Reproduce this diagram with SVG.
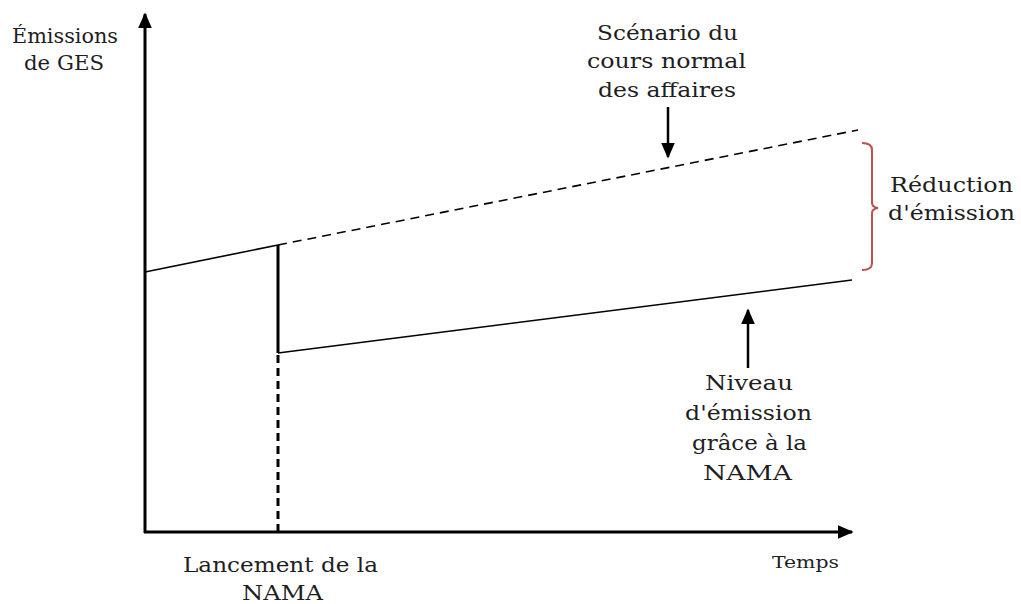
<svg xmlns="http://www.w3.org/2000/svg" width="1021" height="604" viewBox="0 0 1021 604">
<style>
text{font-family:"DejaVu Serif",serif;font-size:21px;fill:#1e1e1e;text-anchor:middle}
.small{font-size:16px}
.axis{stroke:#000;stroke-width:3;fill:none}
.thin{stroke:#000;stroke-width:1.6;fill:none}
.dash{stroke-dasharray:9 6}
.vdash{stroke:#000;stroke-width:3;fill:none;stroke-dasharray:8 5}
.ptr{stroke:#000;stroke-width:2.5;fill:none}
.brace{stroke:#c0504d;stroke-width:2;fill:none}
</style>
<defs>
<marker id="ahBig" viewBox="0 0 10 10" refX="9" refY="5" markerWidth="16" markerHeight="14" markerUnits="userSpaceOnUse" orient="auto" preserveAspectRatio="none">
<path d="M0,0 L10,5 L0,10 z" fill="#000"/>
</marker>
</defs>
<rect width="1021" height="604" fill="#fff"/>
<g id="connectors">
<line class="axis" x1="145" y1="533" x2="145" y2="14" marker-end="url(#ahBig)"/>
<line class="axis" x1="144" y1="532" x2="852" y2="532" marker-end="url(#ahBig)"/>
<line class="thin" x1="145" y1="272" x2="278" y2="245"/>
<line class="thin dash" x1="278" y1="245" x2="858" y2="130"/>
<line class="axis" x1="278" y1="245" x2="278" y2="353"/>
<line class="vdash" x1="278" y1="355" x2="278" y2="532"/>
<line class="thin" x1="278" y1="353" x2="852" y2="280"/>
<line class="ptr" x1="668" y1="107" x2="668" y2="157" marker-end="url(#ahBig)"/>
<line class="ptr" x1="748" y1="368" x2="748" y2="310" marker-end="url(#ahBig)"/>
<path class="brace" d="M862,143 Q872,143 872,150 L872,203 Q872,207 878,208 Q872,209 872,213 L872,263 Q872,270 862,270"/>
</g>
<g id="y-label">
<text x="65" y="43" textLength="106" lengthAdjust="spacingAndGlyphs">Émissions</text>
<text x="64" y="70" textLength="80" lengthAdjust="spacingAndGlyphs">de GES</text>
</g>
<g id="bau-label">
<text x="667.5" y="40" textLength="141" lengthAdjust="spacingAndGlyphs">Scénario du</text>
<text x="666.5" y="68" textLength="159" lengthAdjust="spacingAndGlyphs">cours normal</text>
<text x="667" y="97" textLength="138" lengthAdjust="spacingAndGlyphs">des affaires</text>
</g>
<g id="reduction-label">
<text x="951.5" y="192" textLength="123" lengthAdjust="spacingAndGlyphs">Réduction</text>
<text x="951.5" y="220" textLength="127" lengthAdjust="spacingAndGlyphs">d'émission</text>
</g>
<g id="nama-level-label">
<text x="749" y="390" textLength="88" lengthAdjust="spacingAndGlyphs">Niveau</text>
<text x="748.5" y="420" textLength="127" lengthAdjust="spacingAndGlyphs">d'émission</text>
<text x="749.5" y="450" textLength="115" lengthAdjust="spacingAndGlyphs">grâce à la</text>
<text x="747.5" y="480" textLength="89" lengthAdjust="spacingAndGlyphs">NAMA</text>
</g>
<g id="launch-label">
<text x="280.5" y="572" textLength="195" lengthAdjust="spacingAndGlyphs">Lancement de la</text>
<text x="282.5" y="600" textLength="81" lengthAdjust="spacingAndGlyphs">NAMA</text>
</g>
<g id="time-label">
<text class="small" x="805.5" y="568" textLength="67" lengthAdjust="spacingAndGlyphs">Temps</text>
</g>
</svg>
